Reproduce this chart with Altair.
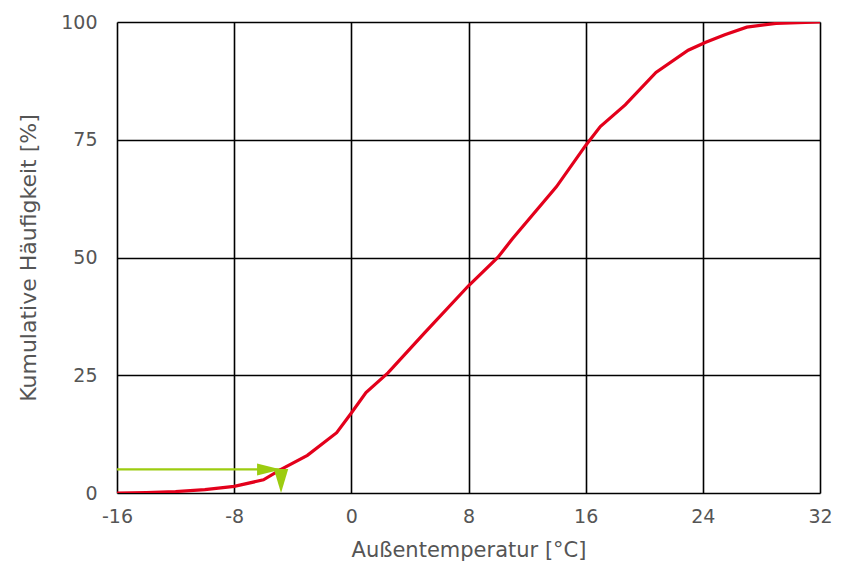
import altair as alt
import pandas as pd

# Cumulative frequency curve
temps = [-16, -14, -12, -10, -8, -6, -4.8, -3, -1, 0, 1, 2.5, 5, 8, 10, 11, 14, 16, 17, 18.7, 20.8, 23, 24.2, 25.5, 27, 29, 32]
freq = [0, 0.1, 0.3, 0.7, 1.4, 2.8, 5, 8, 12.8, 17, 21.3, 25.5, 34, 44, 50, 54, 65, 73.8, 77.8, 82.4, 89.3, 94, 95.7, 97.3, 98.9, 99.7, 100]

# Annotation arrow (x = -4.8 °C at 5 %)
arrow_x = [-16, -4.8]
arrow_y = [5, 5]
head_x = [-4.8]
head_y = [5]
vhead_x = [-4.8]
vhead_y = [0]

x_ticks = [-16, -8, 0, 8, 16, 24, 32]
y_ticks = [0, 25, 50, 75, 100]

curve = pd.DataFrame({"t": temps, "f": freq})
arrow = pd.DataFrame({"t": arrow_x, "f": arrow_y})
head = pd.DataFrame({"t": head_x, "f": head_y})
vhead = pd.DataFrame({"t": vhead_x, "f": vhead_y})

FONT = "DejaVu Sans"
GREY = "#555555"
GREEN = "#9ccc10"

xscale = alt.Scale(domain=[-16, 32], nice=False, zero=False)
yscale = alt.Scale(domain=[0, 100], nice=False)

xenc = alt.X("t:Q", scale=xscale, axis=alt.Axis(
    values=x_ticks, title="Außentemperatur [°C]", grid=True, gridColor="black",
    gridWidth=1.6, gridOpacity=1, ticks=False, domain=False,
    labelExpr="'' + datum.value",
    labelFont=FONT, labelFontSize=19, labelColor=GREY, labelPadding=14,
    titleFont=FONT, titleFontSize=21, titleColor=GREY, titleFontWeight="normal",
    titlePadding=13, labelFlush=False))
yenc = alt.Y("f:Q", scale=yscale, axis=alt.Axis(
    values=y_ticks, title="Kumulative Häufigkeit [%]", grid=True, gridColor="black",
    gridWidth=1.6, gridOpacity=1, ticks=False, domain=False,
    labelFont=FONT, labelFontSize=19, labelColor=GREY, labelPadding=20,
    titleFont=FONT, titleFontSize=22, titleColor=GREY, titleFontWeight="normal",
    titlePadding=20, labelFlush=False))

base_line = alt.Chart(curve).mark_line(color="#e3001b", strokeWidth=3.2, clip=True).encode(
    x=xenc, y=yenc)

arrow_line = alt.Chart(arrow).mark_line(color=GREEN, strokeWidth=2.2).encode(
    x=alt.X("t:Q", scale=xscale), y=alt.Y("f:Q", scale=yscale))

head_mark = alt.Chart(head).mark_point(
    shape="M0,0L-2,-0.5L-2,0.5Z", filled=True, color=GREEN, opacity=1, size=576).encode(
    x=alt.X("t:Q", scale=xscale), y=alt.Y("f:Q", scale=yscale))

vhead_mark = alt.Chart(vhead).mark_point(
    shape="M0,0L-0.6,-2L0.6,-2Z", filled=True, color=GREEN, opacity=1, size=576).encode(
    x=alt.X("t:Q", scale=xscale), y=alt.Y("f:Q", scale=yscale))

chart = alt.layer(arrow_line, base_line, head_mark, vhead_mark).properties(
    width=703, height=471,
    padding={"left": 109, "top": 14, "right": 14, "bottom": 72},
    autosize=alt.AutoSizeParams(type="none"),
).configure_view(stroke="black", strokeWidth=2.2).configure(background="white")

chart.save("out.html", embed_options={"renderer": "svg", "actions": False})
